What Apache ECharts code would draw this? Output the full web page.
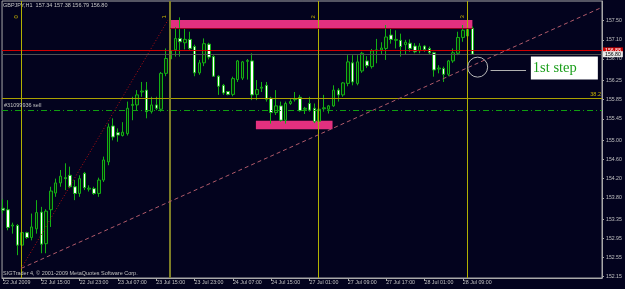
<!DOCTYPE html>
<html><head><meta charset="utf-8">
<script src="https://cdn.jsdelivr.net/npm/echarts@6/dist/echarts.min.js"></script>
<style>html,body{margin:0;padding:0;background:#03031e;}#c{width:625px;height:289px;}</style>
</head><body><div id="c"></div>
<script>
// ---- data ----
const symbolName = 'GBPJPY,H1';
const opens  = [153.58,153.55,153.21,153.22,152.81,153.07,152.97,153.15,153.50,152.84,
                153.55,153.90,154.11,154.22,154.27,154.03,153.89,154.31,153.98,153.99,
                153.89,154.17,154.55,155.30,155.16,155.10,155.14,155.73,155.74,156.01,
                156.05,155.60,155.74,155.65,156.40,156.70,156.89,157.13,157.04,157.11,
                156.96,156.41,156.62,157.01,156.75,156.34,156.15,156.02,155.96,156.27,
                156.30,156.65,156.66,155.96,156.09,156.15,155.88,155.58,155.72,155.42,
                155.77,155.85,155.90,155.65,155.77,155.67,155.40,155.66,155.65,155.72,
                156.05,155.95,156.19,156.62,156.19,156.45,156.66,156.54,156.87,156.89,
                156.92,157.20,157.09,157.09,157.00,157.03,156.97,156.87,156.97,156.92,
                156.83,156.49,156.50,156.38,156.66,156.82,157.15,157.18,157.34];
const highs  = [153.77,153.75,153.28,153.25,153.12,153.09,153.47,153.75,153.61,153.56,
                154.03,154.20,154.38,154.52,154.45,154.17,154.27,154.34,154.06,154.03,
                154.22,154.66,155.35,155.46,155.25,155.38,155.81,155.91,156.05,156.22,
                156.22,155.91,155.91,156.43,156.92,156.98,157.37,157.57,157.34,157.27,
                157.00,156.68,157.13,157.04,156.78,156.36,156.18,156.03,156.33,156.68,
                156.66,156.70,156.82,156.26,156.22,156.22,155.91,156.05,155.81,155.81,
                155.86,156.01,155.95,155.70,155.91,155.77,155.84,155.95,155.74,156.15,
                156.09,156.22,156.78,156.78,156.78,156.85,156.76,156.91,157.12,157.05,
                157.41,157.34,157.30,157.23,157.10,157.11,157.03,157.03,156.99,156.96,
                156.85,156.57,156.54,156.68,156.92,157.27,157.41,157.38,157.38];
const lows   = [153.47,153.12,153.05,152.60,152.78,152.94,152.91,153.05,152.64,152.64,
                153.19,153.82,154.03,153.96,154.00,153.75,153.82,153.96,153.93,153.86,
                153.82,154.13,154.48,155.00,154.97,155.08,155.10,155.42,155.63,155.91,
                155.46,155.56,155.63,155.60,156.34,156.62,156.75,156.75,156.90,156.89,
                156.34,156.37,156.55,156.69,156.33,155.95,155.95,155.94,155.92,156.22,
                156.26,156.27,155.84,155.84,156.01,155.81,155.35,155.53,155.39,155.35,
                155.74,155.81,155.60,155.55,155.60,155.36,155.37,155.60,155.56,155.70,
                155.81,155.91,156.13,156.15,156.15,156.41,156.51,156.50,156.61,156.80,
                156.68,157.02,156.92,156.75,156.79,156.85,156.82,156.82,156.85,156.80,
                156.33,156.40,156.22,156.34,156.62,156.78,157.06,157.14,156.79];
const closes = [153.54,153.18,153.23,152.81,153.07,152.97,153.19,153.49,152.83,153.52,
                153.94,154.11,154.25,154.20,154.03,153.89,154.20,154.01,154.00,153.89,
                154.17,154.59,155.28,155.07,155.11,155.17,155.67,155.75,155.95,156.03,
                155.60,155.74,155.67,156.40,156.71,156.88,157.13,157.06,157.11,156.92,
                156.41,156.62,157.02,156.74,156.34,156.13,155.99,155.96,156.29,156.66,
                156.64,156.67,155.95,156.06,156.11,155.86,155.58,155.72,155.42,155.77,
                155.81,155.87,155.62,155.67,155.63,155.39,155.65,155.68,155.72,156.05,
                155.95,156.20,156.64,156.22,156.64,156.82,156.56,156.87,156.89,156.93,
                157.16,157.11,157.11,156.96,157.05,156.92,156.85,156.97,156.90,156.83,
                156.47,156.51,156.38,156.66,156.83,157.15,157.30,157.32,156.80];
const timeTickIndex  = [0,8,16,24,32,40,48,56,64,72,80,88,96];
const timeTickLabels = ['22 Jul 2009','22 Jul 15:00','22 Jul 23:00','23 Jul 07:00','23 Jul 15:00',
                        '23 Jul 23:00','24 Jul 07:00','24 Jul 15:00','27 Jul 01:00','27 Jul 09:00',
                        '27 Jul 17:00','28 Jul 01:00','28 Jul 09:00'];
const priceTicks = [157.50,157.10,156.70,156.25,155.85,155.45,155.00,154.60,154.20,153.80,153.35,152.95,152.55,152.15];
const orderLevel = 156.88;
const bidLevel = 156.80;
const fibLevel = 155.885, fibLabel = '38.2';
const sellLevel = 155.62, sellLabel = '#31099936 sell';
const timeZoneBars = [3.82, 34.86, 65.82, 96.93];
const timeZoneNames = ['0','1','2','3'];
const zoneTop = [[34.9, 157.515], [98.0, 157.35]];
const zoneTopEdge = 157.34;
const zoneBottom = [[52.8, 155.41], [68.8, 155.23]];
const fibTrend = [[3.82, 152.325], [34.45, 157.515]];
const trendLine = [[3.82, 152.325], [125.06, 157.78]];
const circlePoint = [99.1, 156.53];
const noteLine = [[101.8, 156.455], [109.2, 156.455]];
const notePoint = [117.2, 156.51], noteText = '1st step';
const copyright = 'SIGTrader 4, \u00a9 2001-2009 MetaQuotes Software Corp.';

// ---- chart ----
const FONT = 'Liberation Sans';
const last = opens.length - 1;
const fmt = v => v.toFixed(2);
const candleData = opens.map((o, i) => [i, o, closes[i], lows[i], highs[i]]);
const chart = echarts.init(document.getElementById('c'));
const txt = (color, size) => ({color, fontSize: size, fontFamily: FONT, fontWeight: 'normal'});

const option = {
  backgroundColor: '#03031e',
  animation: false,
  title: [
    {text: symbolName + '  ' + [opens[last], highs[last], lows[last], closes[last]].map(fmt).join(' '),
     left: 3, top: 2, padding: 0, textStyle: txt('#c8c8c8', 5.5)},
    {text: copyright, left: 3, top: 270, padding: 0, textStyle: txt('#c0c0c0', 5.5)}
  ],
  grid: {left: 2, right: 23, top: 1, bottom: 11, show: true, borderColor: '#a8a8a8', borderWidth: 1, backgroundColor: 'transparent'},
  xAxis: {
    type: 'value', min: -0.2, max: 125.06,
    axisLine: {show: true, onZero: false, lineStyle: {color: '#a8a8a8', width: 1}},
    axisTick: {show: true, customValues: timeTickIndex, length: 3, lineStyle: {color: '#a8a8a8'}},
    axisLabel: {customValues: timeTickIndex, formatter: v => timeTickLabels[timeTickIndex.indexOf(Math.round(v))],
                align: 'left', margin: 2, ...txt('#c0c0c0', 5.3)},
    splitLine: {show: false}
  },
  yAxis: {
    type: 'value', position: 'right', min: 152.123, max: 157.912, scale: true,
    axisLine: {show: true, onZero: false, lineStyle: {color: '#a8a8a8', width: 1}},
    axisTick: {show: true, customValues: priceTicks, length: 2, lineStyle: {color: '#a8a8a8'}},
    axisLabel: {customValues: priceTicks, formatter: fmt, margin: 4, ...txt('#c0c0c0', 5.2)},
    splitLine: {show: false}
  },
  series: [{
    type: 'candlestick',
    data: candleData,
    barWidth: 3,
    itemStyle: {color: '#06200f', color0: '#ffffff', borderColor: '#14b014', borderColor0: '#14b014', borderWidth: 1},
    markArea: {
      silent: true,
      data: [
        [{coord: zoneTop[0], itemStyle: {color: '#e2307f'}}, {coord: zoneTop[1]}],
        [{coord: zoneBottom[0], itemStyle: {color: '#e2307f'}}, {coord: zoneBottom[1]}]
      ]
    },
    markLine: {
      silent: true, symbol: ['none', 'none'], animation: false,
      data: [
        {yAxis: orderLevel, lineStyle: {color: '#d00000', width: 1, type: 'solid'},
         label: {show: true, position: 'end', formatter: fmt(orderLevel), backgroundColor: '#d00000', padding: [1, 2, 0, 2], distance: 1, ...txt('#ffffff', 5.2)}},
        {yAxis: bidLevel, lineStyle: {color: '#505050', width: 1, type: 'solid'},
         label: {show: true, position: 'end', formatter: fmt(bidLevel), backgroundColor: '#e8e8e8', padding: [1, 2, 0, 2], distance: 1, ...txt('#000000', 5.2)}},
        {yAxis: fibLevel, lineStyle: {color: '#aaa000', width: 1, type: 'solid'},
         label: {show: true, position: 'insideEndTop', formatter: fibLabel, distance: 1, ...txt('#c8b400', 5.5)}},
        {yAxis: sellLevel, lineStyle: {color: '#10a010', width: 1, type: [6, 3, 1, 3]},
         label: {show: true, position: 'insideStartTop', formatter: sellLabel, distance: 2, ...txt('#c0c0c0', 5.5)}},
        ...timeZoneBars.map((b, k) => ({xAxis: b, label: {show: false},
          lineStyle: k === 1 ? {color: '#7e7e26', width: 2, type: 'solid'} : {color: '#b0b000', width: 1, type: 'solid'}})),
        [{coord: zoneTop[0].slice(0,1).concat([zoneTopEdge]), lineStyle: {color: '#900020', width: 1, type: 'solid'}, label: {show: false}},
         {coord: [zoneTop[1][0], zoneTopEdge]}],
        [{coord: fibTrend[0], lineStyle: {color: '#b01010', width: 1, type: [1, 2]}, label: {show: false}}, {coord: fibTrend[1]}],
        [{coord: trendLine[0], lineStyle: {color: '#b05a6a', width: 1, type: [4, 3]}, label: {show: false}}, {coord: trendLine[1]}],
        [{coord: noteLine[0], lineStyle: {color: '#b0b0b0', width: 1, type: 'solid'}, label: {show: false}}, {coord: noteLine[1]}]
      ]
    },
    markPoint: {
      silent: true, animation: false,
      data: [
        {coord: circlePoint, symbol: 'circle', symbolSize: 20,
         itemStyle: {color: 'rgba(0,0,0,0)', borderColor: '#b8b8b8', borderWidth: 1}, label: {show: false}},
        {coord: notePoint, symbol: 'rect', symbolSize: [67, 23], itemStyle: {color: '#ffffff'},
         label: {show: true, position: 'insideLeft', distance: 2, formatter: noteText,
                 color: '#1a9e1a', fontSize: 14.5, fontFamily: 'Liberation Serif', fontWeight: 'normal'}},
        ...timeZoneBars.map((b, k) => ({coord: [b - 1.1, 157.58], symbol: 'rect', symbolSize: 1,
          itemStyle: {color: 'rgba(0,0,0,0)'},
          label: {show: true, position: 'inside', rotate: 90, formatter: timeZoneNames[k], ...txt('#c8b400', 6)}}))
      ]
    }
  }]
};
chart.setOption(option);
</script>
</body></html>
